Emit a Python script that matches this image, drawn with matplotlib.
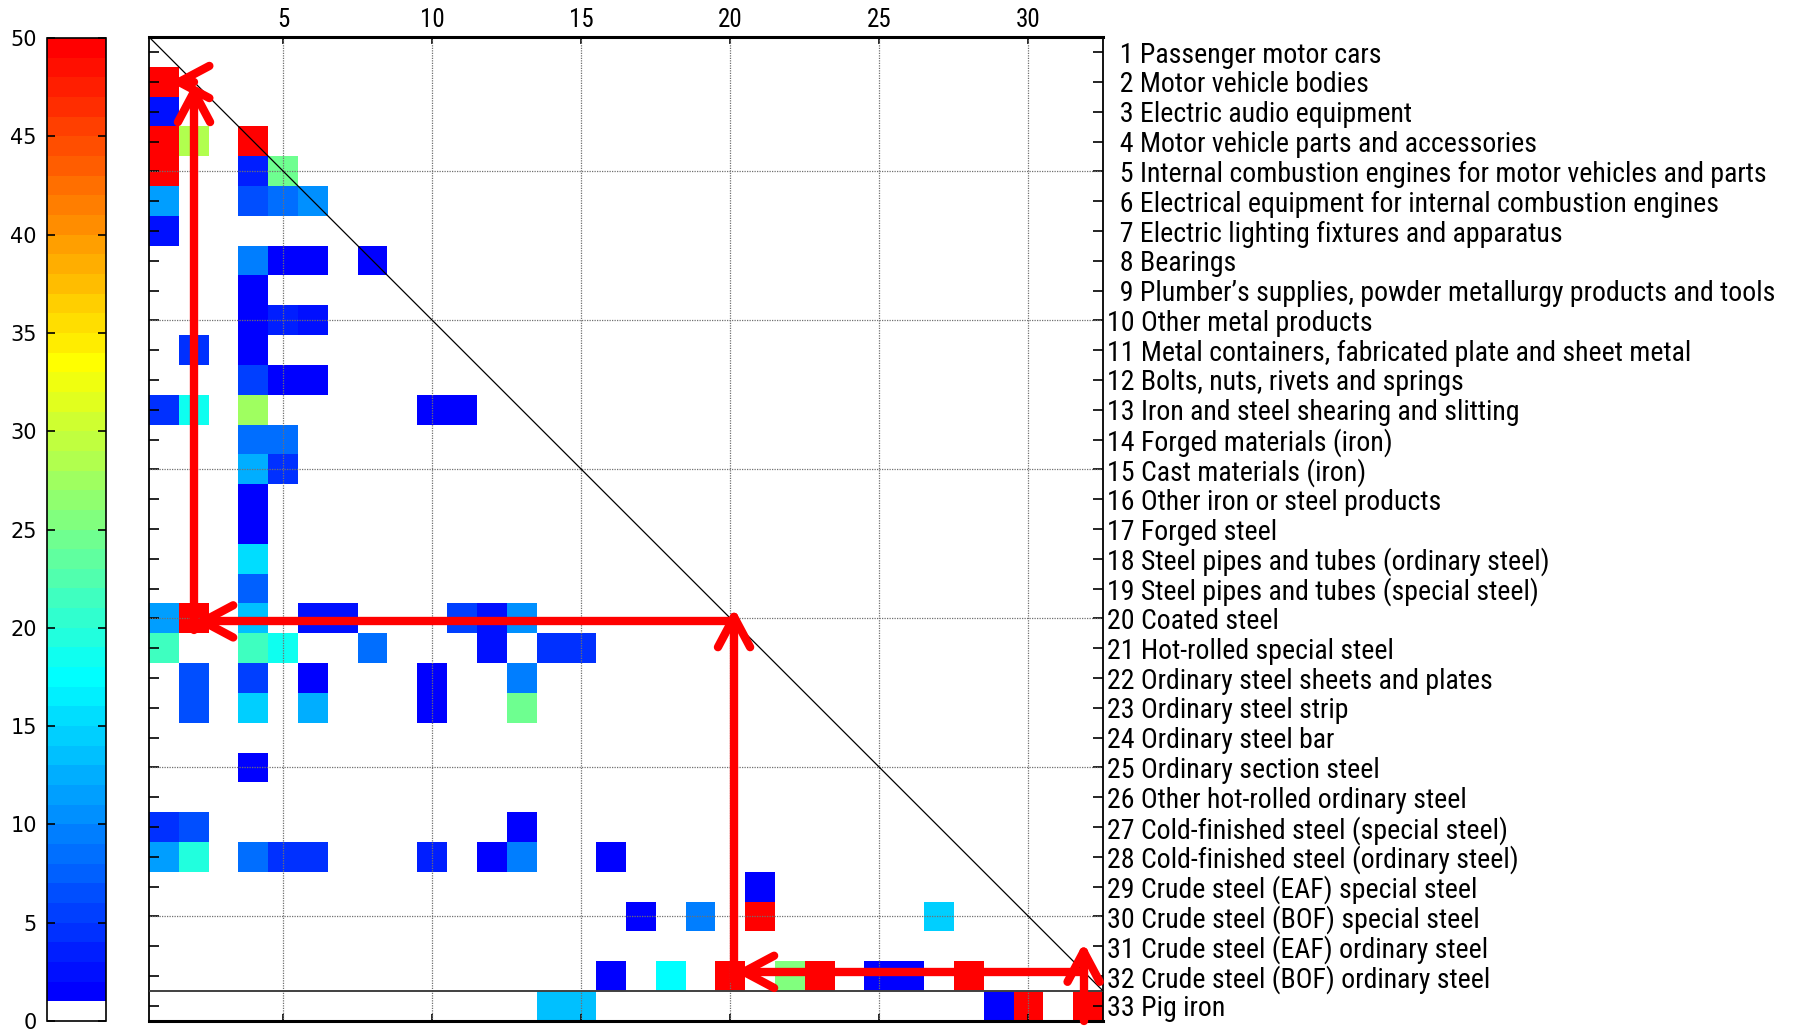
import numpy as np
import matplotlib
matplotlib.use("Agg")
import matplotlib.pyplot as plt
import matplotlib.font_manager as fm
from matplotlib.colors import ListedColormap, BoundaryNorm, LinearSegmentedColormap
from matplotlib.cm import ScalarMappable

# ---------------- data ----------------
sectors = [
    "Passenger motor cars",
    "Motor vehicle bodies",
    "Electric audio equipment",
    "Motor vehicle parts and accessories",
    "Internal combustion engines for motor vehicles and parts",
    "Electrical equipment for internal combustion engines",
    "Electric lighting fixtures and apparatus",
    "Bearings",
    "Plumber\u2019s supplies, powder metallurgy products and tools",
    "Other metal products",
    "Metal containers, fabricated plate and sheet metal",
    "Bolts, nuts, rivets and springs",
    "Iron and steel shearing and slitting",
    "Forged materials (iron)",
    "Cast materials (iron)",
    "Other iron or steel products",
    "Forged steel",
    "Steel pipes and tubes (ordinary steel)",
    "Steel pipes and tubes (special steel)",
    "Coated steel",
    "Hot-rolled special steel",
    "Ordinary steel sheets and plates",
    "Ordinary steel strip",
    "Ordinary steel bar",
    "Ordinary section steel",
    "Other hot-rolled ordinary steel",
    "Cold-finished steel (special steel)",
    "Cold-finished steel (ordinary steel)",
    "Crude steel (EAF) special steel",
    "Crude steel (BOF) special steel",
    "Crude steel (EAF) ordinary steel",
    "Crude steel (BOF) ordinary steel",
    "Pig iron",
]
n_cols = 32
x_ticks = [5, 10, 15, 20, 25, 30]
cbar_ticks = [0, 5, 10, 15, 20, 25, 30, 35, 40, 45, 50]

cell_row = [2,
            3,
            4, 4, 4,
            5, 5, 5,
            6, 6, 6, 6,
            7,
            8, 8, 8, 8,
            9,
            10, 10, 10,
            11, 11,
            12, 12, 12,
            13, 13, 13, 13, 13,
            14, 14,
            15, 15,
            16,
            17,
            18,
            19,
            20, 20, 20, 20, 20, 20, 20, 20,
            21, 21, 21, 21, 21, 21, 21,
            22, 22, 22, 22, 22,
            23, 23, 23, 23, 23,
            25,
            27, 27, 27,
            28, 28, 28, 28, 28, 28, 28, 28, 28,
            29,
            30, 30, 30, 30,
            32, 32, 32, 32, 32, 32, 32, 32,
            33, 33, 33, 33, 33]
cell_col = [1,
            1,
            1, 2, 4,
            1, 4, 5,
            1, 4, 5, 6,
            1,
            4, 5, 6, 8,
            4,
            4, 5, 6,
            2, 4,
            4, 5, 6,
            1, 2, 4, 10, 11,
            4, 5,
            4, 5,
            4,
            4,
            4,
            4,
            1, 2, 4, 6, 7, 11, 12, 13,
            1, 4, 5, 8, 12, 14, 15,
            2, 4, 6, 10, 13,
            2, 4, 6, 10, 13,
            4,
            1, 2, 13,
            1, 2, 4, 5, 6, 10, 12, 13, 16,
            21,
            17, 19, 21, 27,
            16, 18, 20, 22, 23, 25, 26, 28,
            14, 15, 29, 30, 32]
cell_val = [50,
            2,
            50, 28, 50,
            50, 3, 24,
            11, 6, 8, 10,
            2,
            9, 1.5, 1.5, 1.5,
            1.5,
            1.5, 3, 2,
            4, 1.5,
            5, 1.5, 1.5,
            4, 18, 27, 1.5, 1.5,
            8, 8,
            12, 4,
            1.5,
            1.5,
            15,
            7,
            11, 50, 13, 2, 2, 5, 2, 10,
            21, 21, 18, 8, 2, 4, 4,
            6, 5, 1.5, 1.5, 9,
            6, 14, 12, 1.5, 24,
            1.5,
            4, 6, 1.5,
            11, 19, 8, 4, 4, 3, 1.5, 9, 1.5,
            1.5,
            1.5, 9, 50, 14,
            1.5, 17, 50, 25, 50, 1.5, 1.5, 50,
            13, 13, 1.5, 50, 50]

# supply chain highlighted by the red arrows (sector numbers)
chain = [33, 32, 20, 2, 1]

# ---------------- fonts ----------------
available = {f.name for f in fm.fontManager.ttflist}
narrow = None
for cand in ["Liberation Sans Narrow", "DejaVu Sans Condensed", "Roboto Condensed",
             "Open Sans Condensed", "Noto Sans Display", "Liberation Sans"]:
    if cand in available:
        narrow = cand
        break
label_family = [narrow, "DejaVu Sans"] if narrow else ["DejaVu Sans"]

# ---------------- figure ----------------
W, H = 1793, 1032
fig = plt.figure(figsize=(W / 100, H / 100), dpi=100)

ax_l, ax_r, ax_t, ax_b = 149.3, 1103.0, 37.3, 1020.7
ax = fig.add_axes([ax_l / W, (H - ax_b) / H, (ax_r - ax_l) / W, (ax_b - ax_t) / H])

base = LinearSegmentedColormap.from_list(
    "bcyr", [(0, "#0000ff"), (1 / 3, "#00ffff"), (2 / 3, "#ffff00"), (1, "#ff0000")])
colors = ["#ffffff"] + [base(t) for t in np.linspace(0, 1, 49)]
cmap = ListedColormap(colors)
cmap.set_bad("white")
norm = BoundaryNorm(np.arange(0, 51), 50)

n_rows = len(sectors)
M = np.full((n_rows, n_cols), np.nan)
for r, c, v in zip(cell_row, cell_col, cell_val):
    M[r - 1, c - 1] = v

ax.imshow(M, cmap=cmap, norm=norm, interpolation="nearest", aspect="auto",
          extent=(0.5, n_cols + 0.5, n_rows + 0.5, 0.5), zorder=1)
ax.set_xlim(0.5, n_cols + 0.5)
ax.set_ylim(n_rows + 0.5, 0.5)

# grid (dotted) at major ticks
for g in x_ticks:
    ax.axvline(g, color="#707070", lw=0.9, ls=(0, (1, 1)), zorder=2)
    ax.axhline(g, color="#707070", lw=0.9, ls=(0, (1, 1)), zorder=2)
# separator for the extra bottom row, and the diagonal
ax.axhline(n_cols + 0.5, color="#404040", lw=1.4, zorder=3)
ax.plot([0.5, n_cols + 0.5], [0.5, n_cols + 0.5], color="black", lw=0.9, zorder=3)

# ticks
ax.set_xticks(x_ticks)
ax.set_xticklabels([str(t) for t in x_ticks], family=label_family, fontsize=18)
ax.tick_params(axis="x", top=True, bottom=True, labeltop=True, labelbottom=False,
               direction="in", length=5, width=1.2, pad=4)
rows = np.arange(1, n_rows + 1)
ax.set_yticks(rows)
ylabels = [("  " if i < 10 else "") + f"{i} {s}" for i, s in zip(rows, sectors)]
ax.set_yticklabels(ylabels, family=label_family, fontsize=18)
ax.tick_params(axis="y", left=True, right=True, labelleft=False, labelright=True,
               direction="in", length=7, width=1.2, pad=3)
for side in ["top", "bottom"]:
    ax.spines[side].set_linewidth(2.2)
for side in ["left", "right"]:
    ax.spines[side].set_linewidth(1.3)

# arrows
RED = "#ff0000"
LW = 6.0
L_head = 1.15
th = np.deg2rad(28)


def seg(x0, y0, x1, y1):
    ax.plot([x0, x1], [y0, y1], color=RED, lw=LW, solid_capstyle="round", zorder=6,
            clip_on=False)


v_x = [-0.15, 0.12, 0.0]
v_tip = [-0.82, -0.05, 0.33]
h_y = [-0.14, 0.1, 0.0]
h_tip = [0.45, 0.3, 0.5]
for k in range(3):
    a, b, c = chain[k], chain[k + 1], chain[k + 2]
    xv = b + v_x[k]
    y0 = n_rows + 0.5 if k == 0 else a + h_y[k - 1] + 0.3
    yt = b + v_tip[k]
    seg(xv, y0, xv, yt)
    seg(xv, yt, xv - L_head * np.sin(th), yt + L_head * np.cos(th))
    seg(xv, yt, xv + L_head * np.sin(th), yt + L_head * np.cos(th))
    yh = b + h_y[k]
    xt = c + h_tip[k]
    seg(xv, yh, xt, yh)
    seg(xt, yh, xt + L_head * np.cos(th), yh - L_head * np.sin(th))
    seg(xt, yh, xt + L_head * np.cos(th), yh + L_head * np.sin(th))

# fit the right-hand labels into the available width
fig.canvas.draw()
rend = fig.canvas.get_renderer()
wmax = max(t.get_window_extent(rend).width for t in ax.get_yticklabels())
target = 1776 - 1106
fs = min(20.5, 18 * target / wmax)
for t in ax.get_yticklabels():
    t.set_fontsize(fs)

# colorbar
cb_l, cb_r, cb_t, cb_b = 46.5, 105.7, 38.0, 1021.0
cax = fig.add_axes([cb_l / W, (H - cb_b) / H, (cb_r - cb_l) / W, (cb_b - cb_t) / H])
cb = fig.colorbar(ScalarMappable(norm=norm, cmap=cmap), cax=cax, ticks=cbar_ticks)
cb.outline.set_linewidth(1.2)
cax.minorticks_off()
cax.tick_params(axis="y", left=True, right=True, labelleft=True, labelright=False,
                direction="in", length=6, width=1.2, pad=7, labelsize=15)
cax.set_yticklabels([str(t) for t in cbar_ticks])

fig.savefig("out.png", dpi=100)
